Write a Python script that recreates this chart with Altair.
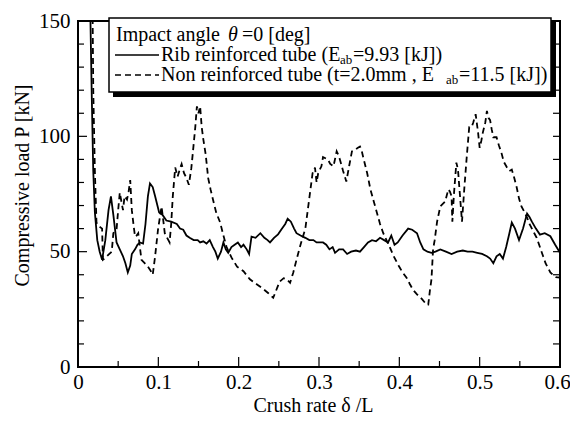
import altair as alt
import pandas as pd

# ---- data ----
rib_x = [0.015, 0.017, 0.019, 0.021, 0.024, 0.027, 0.030, 0.034, 0.038, 0.041, 0.044, 0.048, 0.052,
         0.056, 0.059, 0.062, 0.065, 0.067, 0.071, 0.074, 0.077, 0.081, 0.084, 0.087, 0.0896, 0.093,
         0.096, 0.101, 0.105, 0.110, 0.116, 0.123, 0.127, 0.131, 0.135, 0.139, 0.144, 0.149, 0.152,
         0.156, 0.160, 0.164, 0.168, 0.171, 0.174, 0.178, 0.181, 0.184, 0.187, 0.191, 0.195, 0.199,
         0.203, 0.206, 0.210, 0.213, 0.216, 0.221, 0.227, 0.232, 0.236, 0.239, 0.244, 0.249, 0.254,
         0.258, 0.261, 0.265, 0.269, 0.272, 0.277, 0.283, 0.288, 0.293, 0.297, 0.301, 0.305, 0.309,
         0.313, 0.317, 0.320, 0.325, 0.330, 0.335, 0.340, 0.346, 0.351, 0.356, 0.361, 0.366, 0.371,
         0.376, 0.381, 0.386, 0.390, 0.394, 0.398, 0.404, 0.411, 0.416, 0.422, 0.426, 0.430, 0.435,
         0.440, 0.445, 0.451, 0.458, 0.465, 0.472, 0.479, 0.485, 0.491, 0.497, 0.503, 0.509, 0.513,
         0.517, 0.521, 0.525, 0.529, 0.533, 0.537, 0.540, 0.544, 0.549, 0.554, 0.559, 0.562, 0.565,
         0.570, 0.575, 0.581, 0.588, 0.594, 0.600]
rib_y = [160, 120, 85, 67, 55, 50, 46.5, 55, 68, 74, 66, 54, 51,
         48, 45, 41, 44, 49, 51, 53, 54, 53.5, 62, 74, 79.6, 78,
         74, 67, 66, 63.5, 63, 62, 60, 59.5, 57, 56, 55, 55, 54,
         54.5, 53.5, 55, 52, 50, 47, 50, 54, 51, 49.5, 52, 53, 54,
         52, 53, 51, 49, 56.5, 56, 58, 56, 55, 54, 56, 57.5, 60,
         62, 64.3, 63, 60, 58, 57, 56, 55, 55, 54, 54, 54, 53,
         51, 52, 49.5, 51, 51, 49, 50, 50.5, 50, 52, 54, 55, 54.5,
         56, 55, 54, 57, 53, 54, 57, 60, 59.5, 58, 54, 51, 50,
         49.5, 50, 51, 50, 49, 50, 50.5, 50, 50, 49.5, 49, 48, 47,
         45, 48, 49, 47, 52, 58, 62.6, 60, 55, 60, 66.5, 65, 63,
         60, 57.4, 58, 56.7, 53, 49.5]

non_x = [0.018, 0.019, 0.021, 0.023, 0.026, 0.030, 0.031, 0.033, 0.036, 0.039, 0.042, 0.044, 0.048,
         0.050, 0.052, 0.056, 0.058, 0.061, 0.063, 0.065, 0.067, 0.069, 0.071, 0.073, 0.075, 0.077,
         0.079, 0.083, 0.087, 0.090, 0.093, 0.096, 0.0996, 0.104, 0.106, 0.108, 0.111, 0.114, 0.116,
         0.118, 0.121, 0.124, 0.127, 0.129, 0.132, 0.135, 0.138, 0.141, 0.143, 0.146, 0.148, 0.150,
         0.152, 0.154, 0.156, 0.159, 0.162, 0.165, 0.168, 0.172, 0.177, 0.181, 0.185, 0.191, 0.198,
         0.206, 0.214, 0.222, 0.230, 0.237, 0.243, 0.247, 0.251, 0.256, 0.260, 0.264, 0.268, 0.272,
         0.277, 0.283, 0.286, 0.289, 0.292, 0.295, 0.297, 0.299, 0.301, 0.303, 0.305, 0.308, 0.311,
         0.314, 0.318, 0.322, 0.324, 0.326, 0.330, 0.334, 0.338, 0.341, 0.345, 0.348, 0.351, 0.353,
         0.355, 0.360, 0.364, 0.368, 0.372, 0.376, 0.380, 0.384, 0.388, 0.393, 0.399, 0.404, 0.409,
         0.413, 0.417, 0.422, 0.428, 0.434, 0.436, 0.438, 0.440, 0.442, 0.444, 0.447, 0.451, 0.455,
         0.457, 0.461, 0.463, 0.465, 0.466, 0.468, 0.471, 0.473, 0.476, 0.478, 0.481, 0.484, 0.487,
         0.490, 0.492, 0.495, 0.498, 0.500, 0.502, 0.504, 0.507, 0.509, 0.511, 0.513, 0.515, 0.517,
         0.521, 0.524, 0.527, 0.530, 0.534, 0.537, 0.540, 0.543, 0.546, 0.549, 0.552, 0.556, 0.559,
         0.562, 0.565, 0.568, 0.571, 0.575, 0.579, 0.582, 0.585, 0.588, 0.591, 0.595, 0.600]
non_y = [160, 120, 85, 62.6, 61, 60, 46.5, 47, 48, 49, 50, 58, 59.6,
         68, 75.6, 68, 74, 72.6, 76, 81, 68, 62, 56.5, 57, 58, 52,
         46.5, 45, 43.5, 42, 40, 48, 59.6, 69.6, 64, 58, 56, 54, 62,
         74, 86.5, 82.6, 86, 88, 84, 82, 79, 86, 93, 104, 113, 110,
         113, 104, 98.7, 92, 82, 77, 72.6, 67, 62.6, 57, 52, 47.5, 43.5,
         41.5, 38, 36, 34, 32, 30, 33.5, 37, 38.5, 38, 36.5, 41, 46.5,
         53, 60, 68, 76, 84, 86.5, 80, 84, 85.6, 87, 91, 90.5, 90,
         88, 87, 93.5, 92, 90, 85, 80.4, 88, 93.5, 94, 95, 95.6, 94,
         91, 84, 77, 72, 67, 62, 58, 55, 52, 48, 44, 41, 38.7,
         36, 33.5, 31.5, 29.5, 27, 27, 33, 38, 51, 55, 63, 69.6, 71,
         71.7, 77, 76, 74, 63, 75, 88.6, 85.6, 72, 63, 78, 91.5, 104,
         104, 106, 109.6, 101.7, 95, 98, 101.7, 106, 111, 108, 107, 103, 99.6,
         99.6, 96, 93, 89, 86.5, 85, 85.6, 82, 78, 73, 69.6, 67, 64.8,
         62, 60, 58, 56, 52, 48, 45, 43, 41, 40, 39, 38.7]

x_tick_labels = [0, 0.1, 0.2, 0.3, 0.4, 0.5, 0.6]
y_tick_labels = [0, 50, 100, 150]
x_ticks_major = [0.1, 0.2, 0.3, 0.4, 0.5]
x_ticks_minor = [0.05, 0.15, 0.25, 0.35, 0.45, 0.55]
y_ticks_major = [50, 100]
y_ticks_minor = [10, 20, 30, 40, 60, 70, 80, 90, 110, 120, 130, 140]
y_ticks_all = y_ticks_major + y_ticks_minor

W, H = 482, 346
FONT = "Liberation Serif"

xs = alt.Scale(domain=[0, 0.6], nice=False, zero=False)
ys = alt.Scale(domain=[0, 150], nice=False, zero=False)

rib = pd.DataFrame({"x": rib_x, "y": rib_y})
non = pd.DataFrame({"x": non_x, "y": non_y})

x_axis = alt.Axis(values=x_tick_labels, format="~g", ticks=False, tickSize=0, domain=False, grid=False,
                  labelFont=FONT, labelFontSize=21, labelColor="black", labelPadding=4,
                  labelOffset={"condition": {"test": "datum.value >= 0.59", "value": -3}, "value": 0},
                  labelFlush=False, labelOverlap=False, title="Crush rate  δ /L", titleFont=FONT,
                  titleFontSize=20, titleFontWeight="normal", titleColor="black", titleX=235,
                  titleY=38, titleBaseline="middle", titleAlign="center")
y_axis = alt.Axis(values=y_tick_labels, ticks=False, tickSize=0, domain=False, grid=False,
                  labelFont=FONT, labelFontSize=21, labelColor="black", labelPadding=8,
                  labelOverlap=False,
                  title="Compressive load P [kN]", titleFont=FONT, titleFontSize=20,
                  titleFontWeight="normal", titleColor="black", titleX=-56, titleY=164,
                  titleAngle=270, titleBaseline="middle", titleAlign="center")

X = lambda f: alt.X(f, scale=xs, axis=x_axis)
Y = lambda f: alt.Y(f, scale=ys, axis=y_axis)

solid = alt.Chart(rib).mark_line(color="black", strokeWidth=1.8, clip=True).encode(
    x=X("x:Q"), y=Y("y:Q"))
dashed = alt.Chart(non).mark_line(color="black", strokeWidth=1.8, strokeDash=[6, 4], clip=True).encode(
    x=X("x:Q"), y=Y("y:Q"))

def yticks(vals, x0, x1):
    return alt.Chart(pd.DataFrame({"y": vals})).mark_rule(color="black", strokeWidth=1.2).encode(
        y=Y("y:Q"), x=alt.value(x0), x2=alt.value(x1))

def xticks(vals, length):
    return alt.Chart(pd.DataFrame({"x": vals})).mark_rule(color="black", strokeWidth=1.2).encode(
        x=X("x:Q"), y=alt.value(H - length), y2=alt.value(H))

ticks = [
    yticks(y_ticks_major, 0, 9),
    yticks(y_ticks_minor, 0, 6),
    yticks(y_ticks_all, W - 7, W),
    xticks(x_ticks_major, 10),
    xticks(x_ticks_minor, 6),
]

one = pd.DataFrame({"k": [0]})

shadow = alt.Chart(one).mark_rect(fill="black").encode(
    x=alt.value(35), x2=alt.value(478), y=alt.value(1), y2=alt.value(76))
box = alt.Chart(one).mark_rect(fill="white", stroke="black", strokeWidth=1.5).encode(
    x=alt.value(31), x2=alt.value(473), y=alt.value(-3), y2=alt.value(71))

def txt(s, x, y, size=20, style="normal"):
    return alt.Chart(one).mark_text(text=s, align="left", baseline="middle", font=FONT,
                                    fontSize=size, fontStyle=style, color="black").encode(
        x=alt.value(x), y=alt.value(y))

legend = [
    shadow, box,
    txt("Impact angle", 38, 14),
    txt("θ", 150, 14, style="italic"),
    txt("=0 [deg]", 164, 14),
    alt.Chart(one).mark_rule(color="black", strokeWidth=1.6).encode(
        x=alt.value(37), x2=alt.value(81), y=alt.value(34)),
    txt("Rib reinforced tube (E", 83, 34),
    txt("ab", 262, 39, size=13),
    txt("=9.93 [kJ])", 275, 34),
    alt.Chart(one).mark_rule(color="black", strokeWidth=1.6, strokeDash=[6, 4]).encode(
        x=alt.value(37), x2=alt.value(81), y=alt.value(54)),
    txt("Non reinforced tube (t=2.0mm ,  E", 83, 54),
    txt("ab", 368, 59, size=13),
    txt("=11.5 [kJ])", 381, 54),
]

chart = alt.layer(solid, dashed, *ticks, *legend).properties(
    width=W, height=H,
    autosize=alt.AutoSizeParams(type="none"),
    padding={"left": 70, "top": 13, "right": 10, "bottom": 48},
    background="white",
).configure_view(stroke="black", strokeWidth=2)

chart.save("out.html", embed_options={"renderer": "svg", "actions": False})
